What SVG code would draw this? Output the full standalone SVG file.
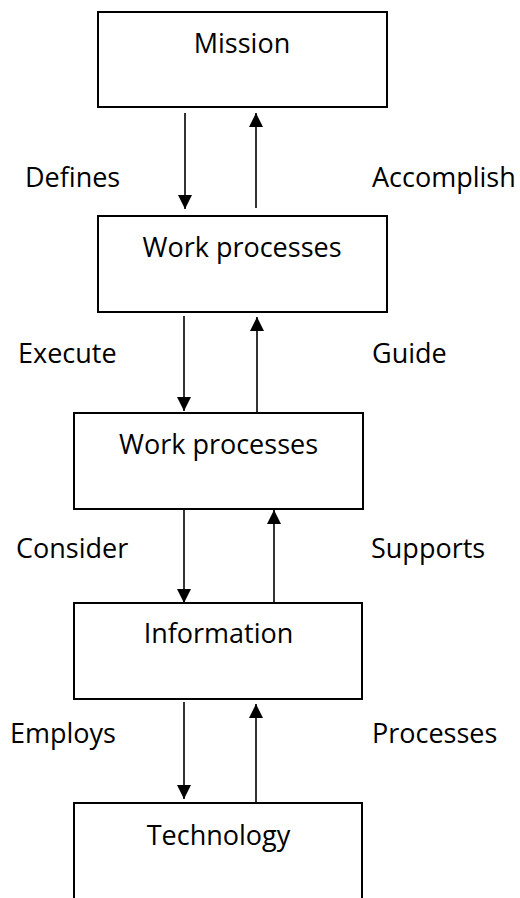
<svg xmlns="http://www.w3.org/2000/svg" width="520" height="898" viewBox="0 0 520 898">
<style>
.box{fill:#fff;stroke:#000;stroke-width:2}
.t{font-family:"Open Sans","Noto Sans",sans-serif;font-size:27px;fill:#000}
.c{text-anchor:middle}
.ln{stroke:#000;stroke-width:1.6;fill:none;marker-end:url(#ah)}
</style>
<defs>
<marker id="ah" markerUnits="userSpaceOnUse" markerWidth="14" markerHeight="14" refX="14" refY="7" orient="auto" viewBox="0 0 14 14">
<path d="M0,0 L14,7 L0,14 z" fill="#000"/>
</marker>
</defs>
<rect width="520" height="898" fill="#fff"/>
<g id="mission"><rect class="box" x="98" y="12" width="289" height="95"/><text class="t c" x="242" y="53">Mission</text></g>
<g id="work1"><rect class="box" x="98" y="216" width="289" height="96"/><text class="t c" x="242" y="257">Work processes</text></g>
<g id="work2"><rect class="box" x="74" y="413" width="289" height="96"/><text class="t c" x="218.5" y="454">Work processes</text></g>
<g id="information"><rect class="box" x="74" y="603" width="288" height="96"/><text class="t c" x="218.5" y="643">Information</text></g>
<g id="technology"><rect class="box" x="74" y="803" width="288" height="110"/><text class="t c" x="218.5" y="845">Technology</text></g>
<g id="connectors">
<line class="ln" x1="185" y1="113" x2="185" y2="209"/>
<line class="ln" x1="256" y1="208" x2="256" y2="113"/>
<line class="ln" x1="184" y1="316" x2="184" y2="411"/>
<line class="ln" x1="257" y1="413" x2="257" y2="317"/>
<line class="ln" x1="184" y1="510" x2="184" y2="603"/>
<line class="ln" x1="274" y1="603" x2="274" y2="510"/>
<line class="ln" x1="184" y1="702" x2="184" y2="799"/>
<line class="ln" x1="256" y1="803" x2="256" y2="704"/>
</g>
<g id="labels">
<text class="t" x="25" y="187">Defines</text>
<text class="t" x="372" y="187">Accomplish</text>
<text class="t" x="18" y="363">Execute</text>
<text class="t" x="372" y="363">Guide</text>
<text class="t" x="16" y="558">Consider</text>
<text class="t" x="371" y="558">Supports</text>
<text class="t" x="10" y="743">Employs</text>
<text class="t" x="372" y="743">Processes</text>
</g>
</svg>
